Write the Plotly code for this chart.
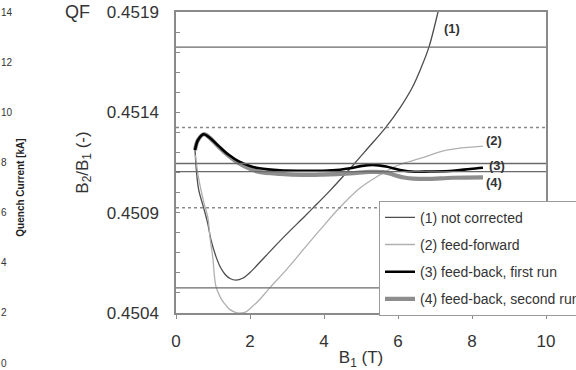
import plotly.graph_objects as go

# ---------------- data ----------------
x1 = [0.514, 0.554, 0.614, 0.738, 0.857, 0.946, 1.081, 1.200, 1.330, 1.460, 1.622, 1.800, 2.000, 2.343,
      2.884, 3.468, 3.711, 4.162, 4.749, 5.189, 5.649, 6.054, 6.378, 6.622, 6.838, 7.081, 7.16]
y1 = [0.451212, 0.451103, 0.451013, 0.450930, 0.450847, 0.450764, 0.450681, 0.450628, 0.450592, 0.450572,
      0.450564, 0.450573, 0.450602, 0.450668, 0.450773, 0.450880, 0.450925, 0.451010, 0.451129, 0.451222,
      0.451320, 0.451422, 0.451521, 0.451621, 0.451726, 0.451900, 0.451960]

x2 = [0.527, 0.595, 0.676, 0.770, 0.857, 0.927, 0.992, 1.081, 1.200, 1.305, 1.450, 1.622, 1.760, 1.892,
      2.050, 2.251, 2.522, 2.973, 3.468, 3.892, 4.432, 4.973, 5.424, 5.800, 6.054, 6.595, 7.316, 8.297]
y2 = [0.451187, 0.451088, 0.451013, 0.450938, 0.450880, 0.450764, 0.450681, 0.450531, 0.450478, 0.450448,
      0.450418, 0.450402, 0.450400, 0.450406, 0.450430, 0.450465, 0.450523, 0.450614, 0.450722, 0.450814,
      0.450927, 0.451023, 0.451079, 0.451118, 0.451140, 0.451170, 0.451212, 0.451232]

x3 = [0.514, 0.595, 0.749, 0.919, 1.170, 1.432, 1.711, 2.000, 2.251, 2.811, 3.424, 3.973, 4.432, 4.703,
      5.027, 5.324, 5.676, 6.054, 6.459, 6.865, 7.486, 7.946, 8.297]
y3 = [0.451212, 0.451262, 0.451291, 0.451272, 0.451229, 0.451187, 0.451154, 0.451133, 0.451121, 0.451111,
      0.451109, 0.451109, 0.451114, 0.451121, 0.451133, 0.451138, 0.451130, 0.451113, 0.451104, 0.451105,
      0.451109, 0.451118, 0.451124]

x4 = [0.514, 0.595, 0.749, 0.919, 1.170, 1.432, 1.711, 2.000, 2.251, 2.811, 3.424, 3.973, 4.703, 5.243,
      5.595, 5.800, 6.000, 6.200, 6.405, 6.776, 7.486, 8.297]
y4 = [0.451212, 0.451262, 0.451291, 0.451272, 0.451225, 0.451182, 0.451145, 0.451118, 0.451103, 0.451093,
      0.451088, 0.451090, 0.451096, 0.451103, 0.451102, 0.451094, 0.451082, 0.451074, 0.451070, 0.451068,
      0.451074, 0.451076]

series_names = ["(1) not corrected", "(2) feed-forward", "(3) feed-back, first run", "(4) feed-back, second run"]
curve_labels = ["(1)", "(2)", "(3)", "(4)"]
curve_label_x = [7.46, 8.594, 8.676, 8.594]
curve_label_y = [0.45182, 0.451262, 0.451134, 0.451049]

solid_levels = [0.451725, 0.451145, 0.451105, 0.450525]
dotted_levels = [0.451325, 0.450925]

y_ticks = [0.4504, 0.4509, 0.4514, 0.4519]
x_ticks = [0, 2, 4, 6, 8, 10]
current_ticks = [0, 2, 4, 6, 8, 10, 12, 14]

# ---------------- figure ----------------
FONT = "Liberation Sans, Arial, sans-serif"
W, H = 576, 370
ML, MR, MT, MB = 0, 30, 12, 7
pw = W - ML - MR
ph = H - MT - MB

fig = go.Figure()

fig.add_trace(go.Scatter(x=x1, y=y1, mode="lines", name=series_names[0], legendrank=1, legendgroup="a",
                         line=dict(color="#4d4d4d", width=1.3, shape="spline")))
fig.add_trace(go.Scatter(x=x2, y=y2, mode="lines", name=series_names[1], legendrank=2, legendgroup="b",
                         line=dict(color="#b0b0b0", width=1.3, shape="spline")))
fig.add_trace(go.Scatter(x=x4, y=y4, mode="lines", name=series_names[3], legendrank=4, legendgroup="d",
                         line=dict(color="#8e8e8e", width=4.2, shape="spline")))
fig.add_trace(go.Scatter(x=x3, y=y3, mode="lines", name=series_names[2], legendrank=3, legendgroup="c",
                         line=dict(color="#000000", width=2.6, shape="spline")))
# empty trace that brings the left "Quench Current" axis to life
fig.add_trace(go.Scatter(x=[None], y=[None], yaxis="y2", showlegend=False, hoverinfo="skip"))

for v in solid_levels:
    fig.add_shape(type="line", xref="x domain", yref="y", x0=0, x1=1, y0=v, y1=v,
                  line=dict(color="#6a6a6a", width=1.3))
for v in dotted_levels:
    fig.add_shape(type="line", xref="x domain", yref="y", x0=0, x1=1, y0=v, y1=v,
                  line=dict(color="#8a8a8a", width=1.5, dash="dot"))

for t, xv, yv in zip(curve_labels, curve_label_x, curve_label_y):
    fig.add_annotation(x=xv, y=yv, xref="x", yref="y", text="<b>%s</b>" % t, showarrow=False,
                       font=dict(family=FONT, size=13, color="#333333"))

fig.add_annotation(x=77 / pw, y=1.0, xref="paper", yref="paper", xanchor="center", yanchor="middle",
                   text="QF", showarrow=False, font=dict(family=FONT, size=18, color="#333333"))

fig.update_layout(
    width=W, height=H,
    margin=dict(l=ML, r=MR, t=MT, b=MB, autoexpand=False),
    paper_bgcolor="white", plot_bgcolor="rgba(0,0,0,0)",
    font=dict(family=FONT, color="#333333"),
    showlegend=True,
    legend=dict(x=379 / pw, y=(H - MB - 200.7) / ph, xanchor="left", yanchor="top",
                bgcolor="white", bordercolor="#9a9a9a", borderwidth=1,
                font=dict(family=FONT, size=14, color="#333333"),
                traceorder="grouped", tracegroupgap=6, itemwidth=30),
    xaxis=dict(domain=[176 / pw, 1], range=[0, 10], tickvals=x_ticks, ticks="outside", ticklen=4,
               tickcolor="#8a8a8a", showgrid=False, zeroline=False, showline=True, linecolor="#8a8a8a",
               linewidth=1.5, mirror=True, anchor="y",
               tickfont=dict(family=FONT, size=17, color="#333333"), ticklabelstandoff=8,
               title=dict(text="B<sub>1</sub> (T)", font=dict(family=FONT, size=17, color="#333333"),
                          standoff=2)),
    yaxis=dict(domain=[50 / ph, 1], range=[0.4504, 0.4519], tickvals=y_ticks, tickformat=".4f",
               ticks="inside", ticklen=4, tickcolor="#8a8a8a",
               minor=dict(dtick=0.0001, ticks="inside", ticklen=4, tickcolor="#8a8a8a", showgrid=False),
               showgrid=False, zeroline=False, showline=True, linecolor="#8a8a8a", linewidth=1.5,
               mirror=True, anchor="x",
               tickfont=dict(family=FONT, size=17, color="#333333"), ticklabelstandoff=12,
               title=dict(text="B<sub>2</sub>/B<sub>1</sub> (-)",
                          font=dict(family=FONT, size=17, color="#333333"), standoff=14)),
    yaxis2=dict(domain=[0, 1], range=[0, 14], tickvals=current_ticks, side="right", anchor="free",
                position=0, showgrid=False, zeroline=False, showline=False, ticks="",
                tickfont=dict(family=FONT, size=10, color="#333333"),
                title=dict(text="<b>Quench Current [kA]</b>",
                           font=dict(family=FONT, size=10, color="#222222"), standoff=5)),
)

fig.write_html("out.html", config={"displayModeBar": False},
               post_script="document.body.style.margin='0px';")
